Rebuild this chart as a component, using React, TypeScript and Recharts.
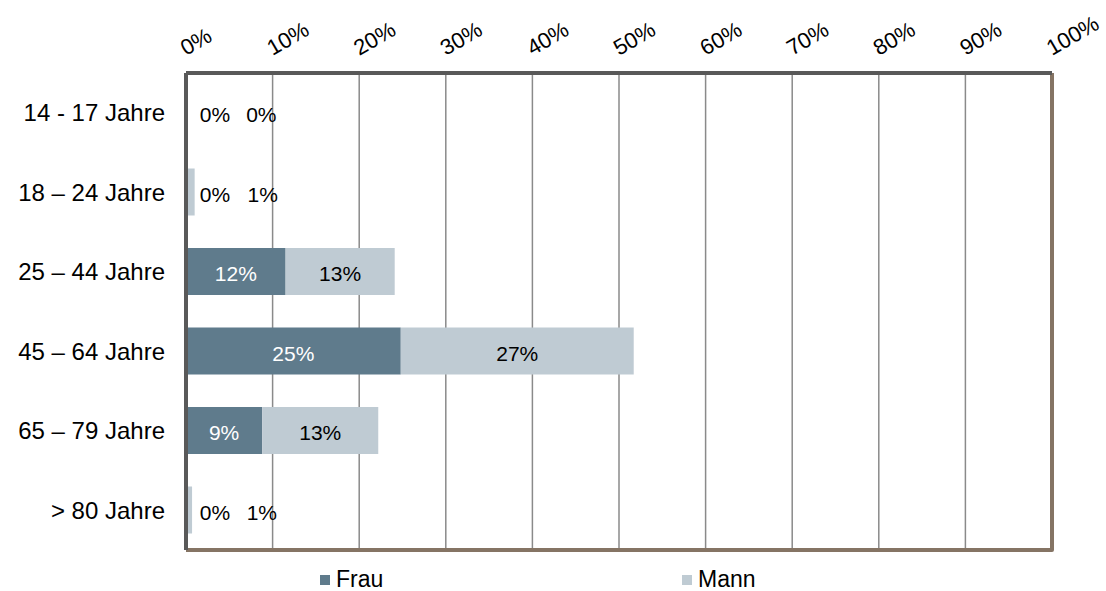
import React from 'react'
import { BarChart, Bar, XAxis, YAxis, CartesianGrid, Legend, LabelList, ReferenceArea } from 'recharts'

const AGES = ['14 - 17 Jahre', '18 – 24 Jahre', '25 – 44 Jahre', '45 – 64 Jahre', '65 – 79 Jahre', '> 80 Jahre']
const FRAU = [0.04, 0.2, 11.5, 24.8, 8.8, 0.1]
const MANN = [0.03, 0.8, 12.6, 26.9, 13.4, 0.6]
const TICKS = [0, 10, 20, 30, 40, 50, 60, 70, 80, 90, 100]

const FRAU_COLOR = '#5f7b8c'
const MANN_COLOR = '#bfcbd3'
const FONT = '"Liberation Sans", Arial, sans-serif'

const data = AGES.map((age, i) => ({ age, frau: FRAU[i], mann: MANN[i] }))

const TopTick = ({ x, y, payload }: any) => (
  <text
    x={x}
    y={y}
    transform={`rotate(-30, ${x}, ${y})`}
    textAnchor="start"
    fontSize={22}
    fontFamily={FONT}
    fill="#000"
  >
    {payload.value}%
  </text>
)

// tiny bars get their label pushed to the right, like the original
const makeLabel = (inside: string, outsideOffset: number) => (props: any) => {
  const { x, y, width, height, value } = props
  const small = width < 24
  const cx = small ? x + outsideOffset : x + width / 2
  return (
    <text
      x={cx}
      y={y + height / 2 + 2}
      textAnchor="middle"
      dominantBaseline="central"
      fontSize={21}
      fontFamily={FONT}
      fill={small ? '#000' : inside}
    >
      {Math.round(value)}%
    </text>
  )
}

// only the right and bottom edges of the frame are brown
const FrameShape = ({ x, y, width, height }: any) => (
  <path
    d={`M${x + width},${y} V${y + height} H${x}`}
    fill="none"
    stroke="#857464"
    strokeWidth={4}
    strokeLinejoin="round"
  />
)

const LegendContent = () => (
  <div style={{ display: 'flex', fontFamily: FONT, fontSize: 23, color: '#000', paddingLeft: 320 }}>
    <div style={{ display: 'flex', alignItems: 'center', width: 362 }}>
      <span style={{ width: 10, height: 10, background: FRAU_COLOR, marginRight: 6 }} />
      Frau
    </div>
    <div style={{ display: 'flex', alignItems: 'center' }}>
      <span style={{ width: 10, height: 10, background: MANN_COLOR, marginRight: 6 }} />
      Mann
    </div>
  </div>
)

export default function App() {
  return (
    <div style={{ width: 1106, height: 591, background: '#fff' }}>
      <style>{`body { margin: 0; }`}</style>
      <BarChart
        width={1106}
        height={591}
        data={data}
        layout="vertical"
        margin={{ top: 13, right: 54, bottom: 14, left: 0 }}
        barCategoryGap={16}
      >
        <CartesianGrid horizontal={false} stroke="#8a8a8a" strokeWidth={1.5} />
        <ReferenceArea x1={0} x2={100} shape={<FrameShape />} ifOverflow="visible" />
        <XAxis
          type="number"
          orientation="top"
          domain={[0, 100]}
          ticks={TICKS}
          height={60}
          tick={<TopTick />}
          tickLine={false}
          tickSize={0}
          tickMargin={17}
          axisLine={{ stroke: '#595959', strokeWidth: 4 }}
          interval={0}
        />
        <YAxis
          type="category"
          dataKey="age"
          width={186}
          tickLine={false}
          tickSize={0}
          tickMargin={21}
          tick={{ fontSize: 24, fill: '#000', fontFamily: FONT }}
          axisLine={{ stroke: '#595959', strokeWidth: 4 }}
        />
        <Legend
          layout="vertical"
          align="center"
          verticalAlign="bottom"
          content={<LegendContent />}
          wrapperStyle={{ left: 0, top: 566, width: 1106 }}
        />
        <Bar dataKey="frau" name="Frau" stackId="a" fill={FRAU_COLOR} barSize={47} isAnimationActive={false}>
          <LabelList dataKey="frau" content={makeLabel('#fff', 29)} />
        </Bar>
        <Bar dataKey="mann" name="Mann" stackId="a" fill={MANN_COLOR} barSize={47} isAnimationActive={false}>
          <LabelList dataKey="mann" content={makeLabel('#000', 75)} />
        </Bar>
      </BarChart>
    </div>
  )
}
